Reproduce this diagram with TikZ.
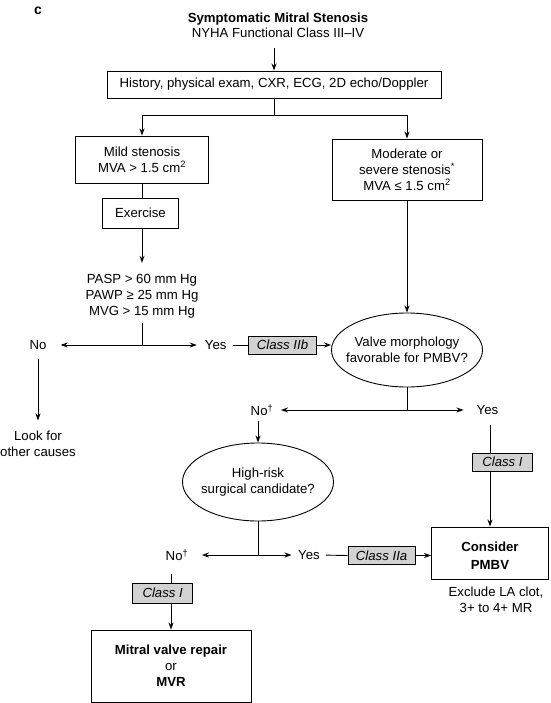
\documentclass[tikz,border=0pt]{standalone}
\usepackage{fontspec}
\setmainfont{Liberation Sans}
\usepackage{tikz}
\usetikzlibrary{shapes.geometric, arrows.meta, positioning}

\newcommand{\chartfont}{\fontsize{13.2}{16}\selectfont}

\begin{document}
\begin{tikzpicture}[x=1pt, y=-1pt,
    font=\chartfont,
    box/.style={draw, rectangle, line width=0.9pt, inner sep=0pt,
                align=center, font=\chartfont},
    question/.style={draw, ellipse, line width=0.9pt, inner ysep=0pt,
                inner xsep=-10pt, align=center, font=\chartfont},
    classbox/.style={draw, rectangle, fill=gray!35, line width=0.9pt,
                inner sep=0pt, minimum height=18, font=\chartfont\itshape},
    word/.style={inner sep=0pt, align=center, font=\chartfont},
    arrow/.style={-{Stealth[length=7pt, width=5pt]}, line width=0.9pt},
    line/.style={line width=0.9pt}
]
\useasboundingbox (0,0) rectangle (550,703);

%% ---- TOP: title and workup ----
\node [font=\fontsize{14}{16}\selectfont\bfseries] (panel) at (38,11) {c};
\node [word, font=\fontsize{13.2}{15}\selectfont] (title) at (278,25.5)
      {\textbf{Symptomatic Mitral Stenosis}\\NYHA Functional Class III–IV};
\node [box, minimum width=334, minimum height=27] (history) at (274,84.5)
      {History, physical exam, CXR, ECG, 2D echo/Doppler};

%% ---- LEFT BRANCH: mild stenosis ----
\node [box, minimum width=133, minimum height=47] (mild) at (142,159.5)
      {Mild stenosis\\MVA > 1.5 cm\textsuperscript{2}};
\node [box, minimum width=76, minimum height=30] (exercise) at (140.5,213) {Exercise};
\node [word] (crit) at (142,296) {PASP > 60 mm Hg\\PAWP ≥ 25 mm Hg\\MVG > 15 mm Hg};
\node [word] (no1)  at (38,345)    {No};
\node [word] (yes1) at (215.7,345) {Yes};
\node [classbox, minimum width=68] (classIIb) at (282.5,345) {Class IIb};
\node [word] (look) at (38,444) {Look for\\other causes};

%% ---- RIGHT BRANCH: moderate or severe ----
\node [box, minimum width=150, minimum height=61] (moderate) at (407,169.5)
      {Moderate or\\severe stenosis\textsuperscript{*}\\MVA ≤ 1.5 cm\textsuperscript{2}};
\node [question, minimum width=151, minimum height=74] (valve) at (407,350)
      {Valve morphology\\favorable for PMBV?};
\node [word] (no2)  at (262,410)   {No\textsuperscript{\textdagger}};
\node [word] (yes2) at (487.5,410) {Yes};
\node [classbox, minimum width=60] (classI1) at (502.5,462) {Class I};
\node [box, font=\fontsize{13.2}{18}\selectfont\bfseries, minimum width=117,
       minimum height=52] (consider) at (490,553) {\rule{0pt}{15.5pt}Consider\\PMBV};
\node [word] (exclude) at (496,600) {Exclude LA clot,\\3+ to 4+ MR};

%% ---- SURGICAL RISK ----
\node [question, minimum width=151, minimum height=78] (risk) at (258,482)
      {High-risk\\surgical candidate?};
\node [word] (no3)  at (177,555) {No\textsuperscript{\textdagger}};
\node [word] (yes3) at (309,555) {Yes};
\node [classbox, minimum width=67] (classIIa) at (381.6,555.5) {Class IIa};
\node [classbox, minimum width=60, minimum height=20] (classI2) at (162.7,593) {Class I};
\node [box, minimum width=160, minimum height=72] (mitral) at (171,666)
      {\textbf{Mitral valve repair}\\or\\\textbf{MVR}};

%% ---- ARROWS: top split ----
\draw [arrow, shorten <=10pt] (history.north |- title.south) -- (history.north);
\draw [line] (history.south) -- ++(0,17) coordinate (split1);
\draw [arrow] (split1) -| (mild.north);
\draw [arrow] (split1) -| (moderate.north);

%% ---- ARROWS: left branch ----
\draw [line] (mild.south) -- (mild.south |- exercise.north);
\draw [arrow, shorten >=11pt] (mild.south |- exercise.south) -- (mild.south |- crit.north);
\draw [line, shorten <=5pt] (mild.south |- crit.south) -- (mild.south |- no1) coordinate (split2);
\draw [arrow, shorten >=14pt] (split2) -- (no1.east);
\draw [arrow, shorten >=8pt] (split2) -- (yes1.west);
\draw [arrow, shorten <=9.5pt, shorten >=10.5pt] (no1.south) -- (look.north);
\draw [line, shorten <=6pt] (yes1.east) -- (classIIb.west);
\draw [arrow] (classIIb.east) -- (classIIb.east -| valve.west);

%% ---- ARROWS: right branch ----
\draw [arrow] (moderate.south) -- (valve.north);
\draw [line] (valve.south) -- (valve.south |- no2) coordinate (split3);
\draw [arrow, shorten >=7.5pt] (split3) -- (no2.east);
\draw [arrow, shorten >=13pt] (split3) -- (yes2.west);
\draw [arrow, shorten <=5pt] (risk.north |- no2.south) -- (risk.north);
\draw [line, shorten <=10pt] (consider.north |- yes2.south) -- (consider.north |- classI1.north);
\draw [arrow] (consider.north |- classI1.south) -- (consider.north);

%% ---- ARROWS: surgical risk ----
\draw [line] (risk.south) -- (risk.south |- no3) coordinate (split4);
\draw [arrow, shorten >=13.5pt] (split4) -- (no3.east);
\draw [arrow, shorten >=6.5pt] (split4) -- (yes3.west);
\draw [line, shorten <=6pt] (yes3.east) -- (classIIa.west);
\draw [arrow] (classIIa.east) -- (classIIa.east -| consider.west);
\draw [line, shorten <=13pt] (mitral.north |- no3.south) -- (mitral.north |- classI2.north);
\draw [arrow] (mitral.north |- classI2.south) -- (mitral.north);

\end{tikzpicture}
\end{document}
